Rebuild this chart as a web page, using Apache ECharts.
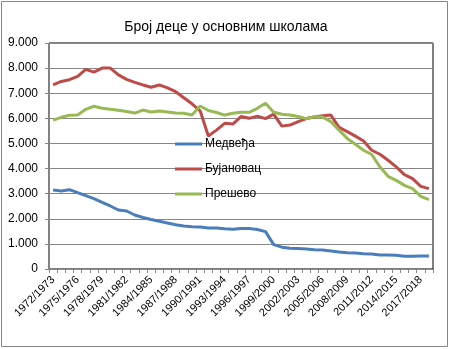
<!DOCTYPE html>
<html>
<head>
<meta charset="utf-8">
<script src="https://cdn.jsdelivr.net/npm/echarts@6/dist/echarts.min.js"></script>
<style>
  html, body { margin: 0; padding: 0; background: #fff; }
  #chart { width: 452px; height: 349px; }
</style>
</head>
<body>
<div id="chart"></div>
<script>
// School years shown on the category axis
const years = [];
for (let y = 1972; y <= 2018; y++) years.push(y + '/' + (y + 1));

// Pupils in primary schools per municipality
const medvedja = [3150, 3110, 3160, 3040, 2920, 2800, 2650, 2510, 2350, 2310,
  2150, 2050, 1970, 1900, 1830, 1760, 1710, 1680, 1670, 1630,
  1630, 1600, 1580, 1610, 1610, 1570, 1490, 970, 870, 830,
  820, 800, 770, 760, 720, 680, 650, 640, 610, 600,
  560, 560, 550, 510, 510, 520, 520];

const bujanovac = [7330, 7470, 7540, 7670, 7950, 7840, 8000, 8000, 7730, 7550,
  7430, 7330, 7240, 7330, 7210, 7060, 6820, 6580, 6300, 5300,
  5530, 5800, 5770, 6070, 6000, 6090, 5990, 6170, 5690, 5730,
  5870, 5990, 6050, 6100, 6130, 5640, 5470, 5290, 5100, 4730,
  4570, 4330, 4070, 3760, 3600, 3290, 3200];

const presevo = [5930, 6040, 6120, 6130, 6360, 6480, 6400, 6360, 6320, 6270,
  6210, 6330, 6250, 6290, 6250, 6210, 6200, 6130, 6490, 6310,
  6230, 6130, 6200, 6240, 6240, 6400, 6600, 6240, 6160, 6130,
  6070, 5990, 6060, 6050, 5870, 5530, 5200, 4970, 4730, 4560,
  4070, 3690, 3530, 3330, 3200, 2890, 2760];

const seriesNames = ['Медвеђа', 'Бујановац', 'Прешево'];
const seriesColors = ['#4A7EBB', '#BE4B48', '#98B954'];

const FONT = 'Liberation Sans';

const chart = echarts.init(document.getElementById('chart'), null, { renderer: 'canvas' });

function lineSeries(name, data, color) {
  return {
    name: name,
    type: 'line',
    data: data,
    showSymbol: false,
    symbol: 'none',
    lineStyle: { color: color, width: 3 },
    itemStyle: { color: color },
    animation: false,
    z: 3
  };
}

chart.setOption({
  animation: false,
  backgroundColor: '#fff',
  textStyle: { fontFamily: FONT },
  title: {
    text: 'Број деце у основним школама',
    left: 'center',
    top: 15,
    textStyle: { fontFamily: FONT, fontSize: 14, fontWeight: 'normal', color: '#000' }
  },
  graphic: [{
    type: 'rect',
    shape: { x: 1.5, y: 1.5, width: 446, height: 345 },
    style: { fill: 'none', stroke: '#868686', lineWidth: 1 },
    silent: true
  }],
  legend: {
    orient: 'vertical',
    left: 170,
    top: 133,
    itemWidth: 27,
    itemHeight: 3,
    itemGap: 13,
    icon: 'rect',
    data: seriesNames,
    textStyle: { fontFamily: FONT, fontSize: 12, color: '#000', padding: [0, 0, 0, -2] }
  },
  grid: {
    left: 49, right: 19, top: 43, bottom: 80,
    show: true, borderColor: '#000', borderWidth: 1,
    containLabel: false
  },
  xAxis: {
    type: 'category',
    data: years,
    boundaryGap: true,
    axisLine: { lineStyle: { color: '#868686', width: 1 } },
    axisTick: { show: true, interval: 0, length: 4, lineStyle: { color: '#868686' } },
    axisLabel: {
      interval: 2,
      rotate: 45,
      margin: 9,
      fontFamily: FONT,
      fontSize: 11,
      color: '#000'
    },
    splitLine: { show: false }
  },
  yAxis: {
    type: 'value',
    min: 0,
    max: 9000,
    interval: 1000,
    axisLine: { show: true, lineStyle: { color: '#868686', width: 1 } },
    axisTick: { show: true, length: 4, lineStyle: { color: '#868686' } },
    axisLabel: {
      margin: 11,
      fontFamily: FONT,
      fontSize: 12,
      color: '#000',
      formatter: function (v) {
        return v === 0 ? '0' : String(v).replace(/\B(?=(\d{3})+(?!\d))/g, '.');
      }
    },
    splitLine: { show: true, lineStyle: { color: '#868686', width: 1 } }
  },
  series: [
    lineSeries(seriesNames[0], medvedja, seriesColors[0]),
    lineSeries(seriesNames[1], bujanovac, seriesColors[1]),
    lineSeries(seriesNames[2], presevo, seriesColors[2])
  ]
});
</script>
</body>
</html>
